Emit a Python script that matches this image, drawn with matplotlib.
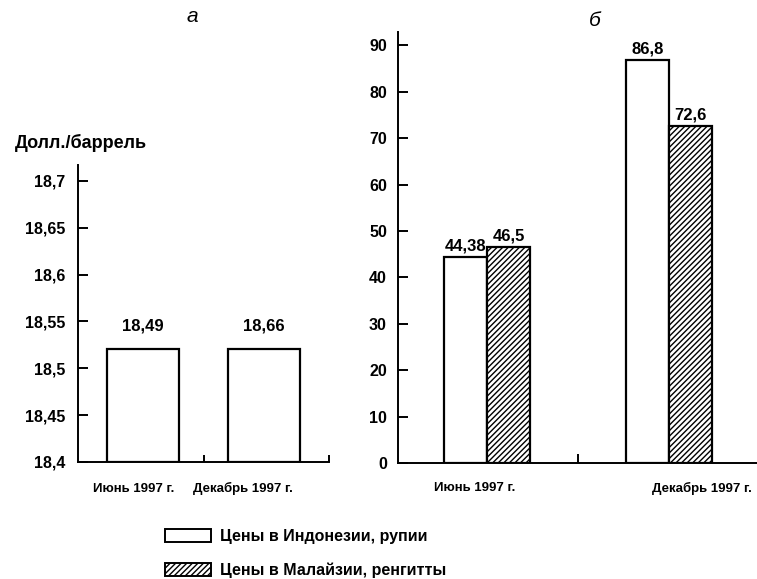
import matplotlib.pyplot as plt
from matplotlib.patches import Patch

plt.rcParams['font.family'] = ['Liberation Sans', 'DejaVu Sans']
plt.rcParams['font.weight'] = 'bold'
plt.rcParams['hatch.linewidth'] = 1.0

# panel a: oil price, $/barrel (bars drawn at same height in the source)
oil_periods = ['Июнь 1997 г.', 'Декабрь 1997 г.']
oil_labels = ['18,49', '18,66']
oil_heights = [18.521, 18.521]

# panel b: prices in national currencies
cur_periods = ['Июнь 1997 г.', 'Декабрь 1997 г.']
indonesia = [44.38, 86.8]
malaysia = [46.5, 72.6]
indonesia_labels = ['44,38', '86,8']
malaysia_labels = ['46,5', '72,6']

W, H = 757, 579
fig = plt.figure(figsize=(W / 100, H / 100), dpi=100)

def frame(px_left, px_top, px_right, px_bottom):
    return [px_left / W, 1 - px_bottom / H, (px_right - px_left) / W, (px_bottom - px_top) / H]

fs_tick = 11.5
fs_val = 12
fs_cat = 9.5

# ---- panel a ----
ax1 = fig.add_axes(frame(78, 165, 329, 462))
x1 = range(len(oil_heights))
ax1.bar(x1, [h - 18.4 for h in oil_heights], bottom=18.4, width=0.6,
        color='white', edgecolor='black', linewidth=1.6)
for x, h, lab in zip(x1, oil_heights, oil_labels):
    ax1.text(x, h + 0.016, lab, ha='center', va='bottom', fontsize=fs_val, fontweight='bold')
ax1.set_xlim(-0.537, 1.537)
ax1.set_ylim(18.4, 18.717)
ax1.set_yticks([18.4, 18.45, 18.5, 18.55, 18.6, 18.65, 18.7])
ax1.set_yticklabels(['18,4', '18,45', '18,5', '18,55', '18,6', '18,65', '18,7'])
ax1.set_xticks([])
for s in ['top', 'right']:
    ax1.spines[s].set_visible(False)
for s in ['left', 'bottom']:
    ax1.spines[s].set_linewidth(1.4)
ax1.tick_params(axis='y', direction='in', length=7, width=1.4, pad=9, labelsize=fs_tick)
ax1.vlines([0.5, 1.537], 18.4, 18.4 + 0.008, color='black', linewidth=1.4, clip_on=False)
for xp, lab in zip([-0.08, 0.83], oil_periods):
    ax1.text(xp, -0.09, lab, transform=ax1.get_xaxis_transform(), ha='center', va='center',
             fontsize=fs_cat, fontweight='bold')

# ---- panel b ----
ax2 = fig.add_axes(frame(398, 32, 757, 463))
x2 = list(range(len(indonesia)))
bw = 0.236
ax2.bar([x - bw / 2 for x in x2], indonesia, width=bw, color='white',
        edgecolor='black', linewidth=1.6)
ax2.bar([x + bw / 2 for x in x2], malaysia, width=bw, color='white',
        edgecolor='black', linewidth=1.6, hatch='//////')
for x, v, lab in zip(x2, indonesia, indonesia_labels):
    ax2.text(x - bw / 2, v + 0.8, lab, ha='center', va='bottom', fontsize=fs_val, fontweight='bold')
for x, v, lab in zip(x2, malaysia, malaysia_labels):
    ax2.text(x + bw / 2, v + 0.8, lab, ha='center', va='bottom', fontsize=fs_val, fontweight='bold')
ax2.set_xlim(-0.489, 1.484)
ax2.set_ylim(0, 92.9)
ax2.set_yticks(range(0, 91, 10))
ax2.set_xticks([])
for s in ['top', 'right']:
    ax2.spines[s].set_visible(False)
for s in ['left', 'bottom']:
    ax2.spines[s].set_linewidth(1.4)
ax2.tick_params(axis='y', direction='in', length=7, width=1.4, pad=8, labelsize=fs_tick)
ax2.vlines([0.5], 0, 2.0, color='black', linewidth=1.4)
for xp, lab in zip([-0.066, 1.18], cur_periods):
    ax2.text(xp, -0.058, lab, transform=ax2.get_xaxis_transform(), ha='center', va='center',
             fontsize=fs_cat, fontweight='bold')

# titles and unit label
fig.text(192 / W, 1 - 17 / H, 'а', fontsize=15, style='italic', fontweight='normal',
         ha='center', va='center')
fig.text(595 / W, 1 - 20 / H, 'б', fontsize=15, style='italic', fontweight='normal',
         ha='center', va='center')
fig.text(15 / W, 1 - 143 / H, 'Долл./баррель', fontsize=13, fontweight='bold',
         ha='left', va='center')

# legend
handles = [Patch(facecolor='white', edgecolor='black', linewidth=1.4),
           Patch(facecolor='white', edgecolor='black', linewidth=1.4, hatch='//////')]
fig.legend(handles, ['Цены в Индонезии, рупии', 'Цены в Малайзии, ренгитты'],
           loc='upper left', bbox_to_anchor=(159 / W, 1 - 523 / H), frameon=False,
           fontsize=11.5, handlelength=2.85, handleheight=0.85, labelspacing=1.15,
           handletextpad=0.55, borderaxespad=0)

fig.savefig('out.png', dpi=100)
